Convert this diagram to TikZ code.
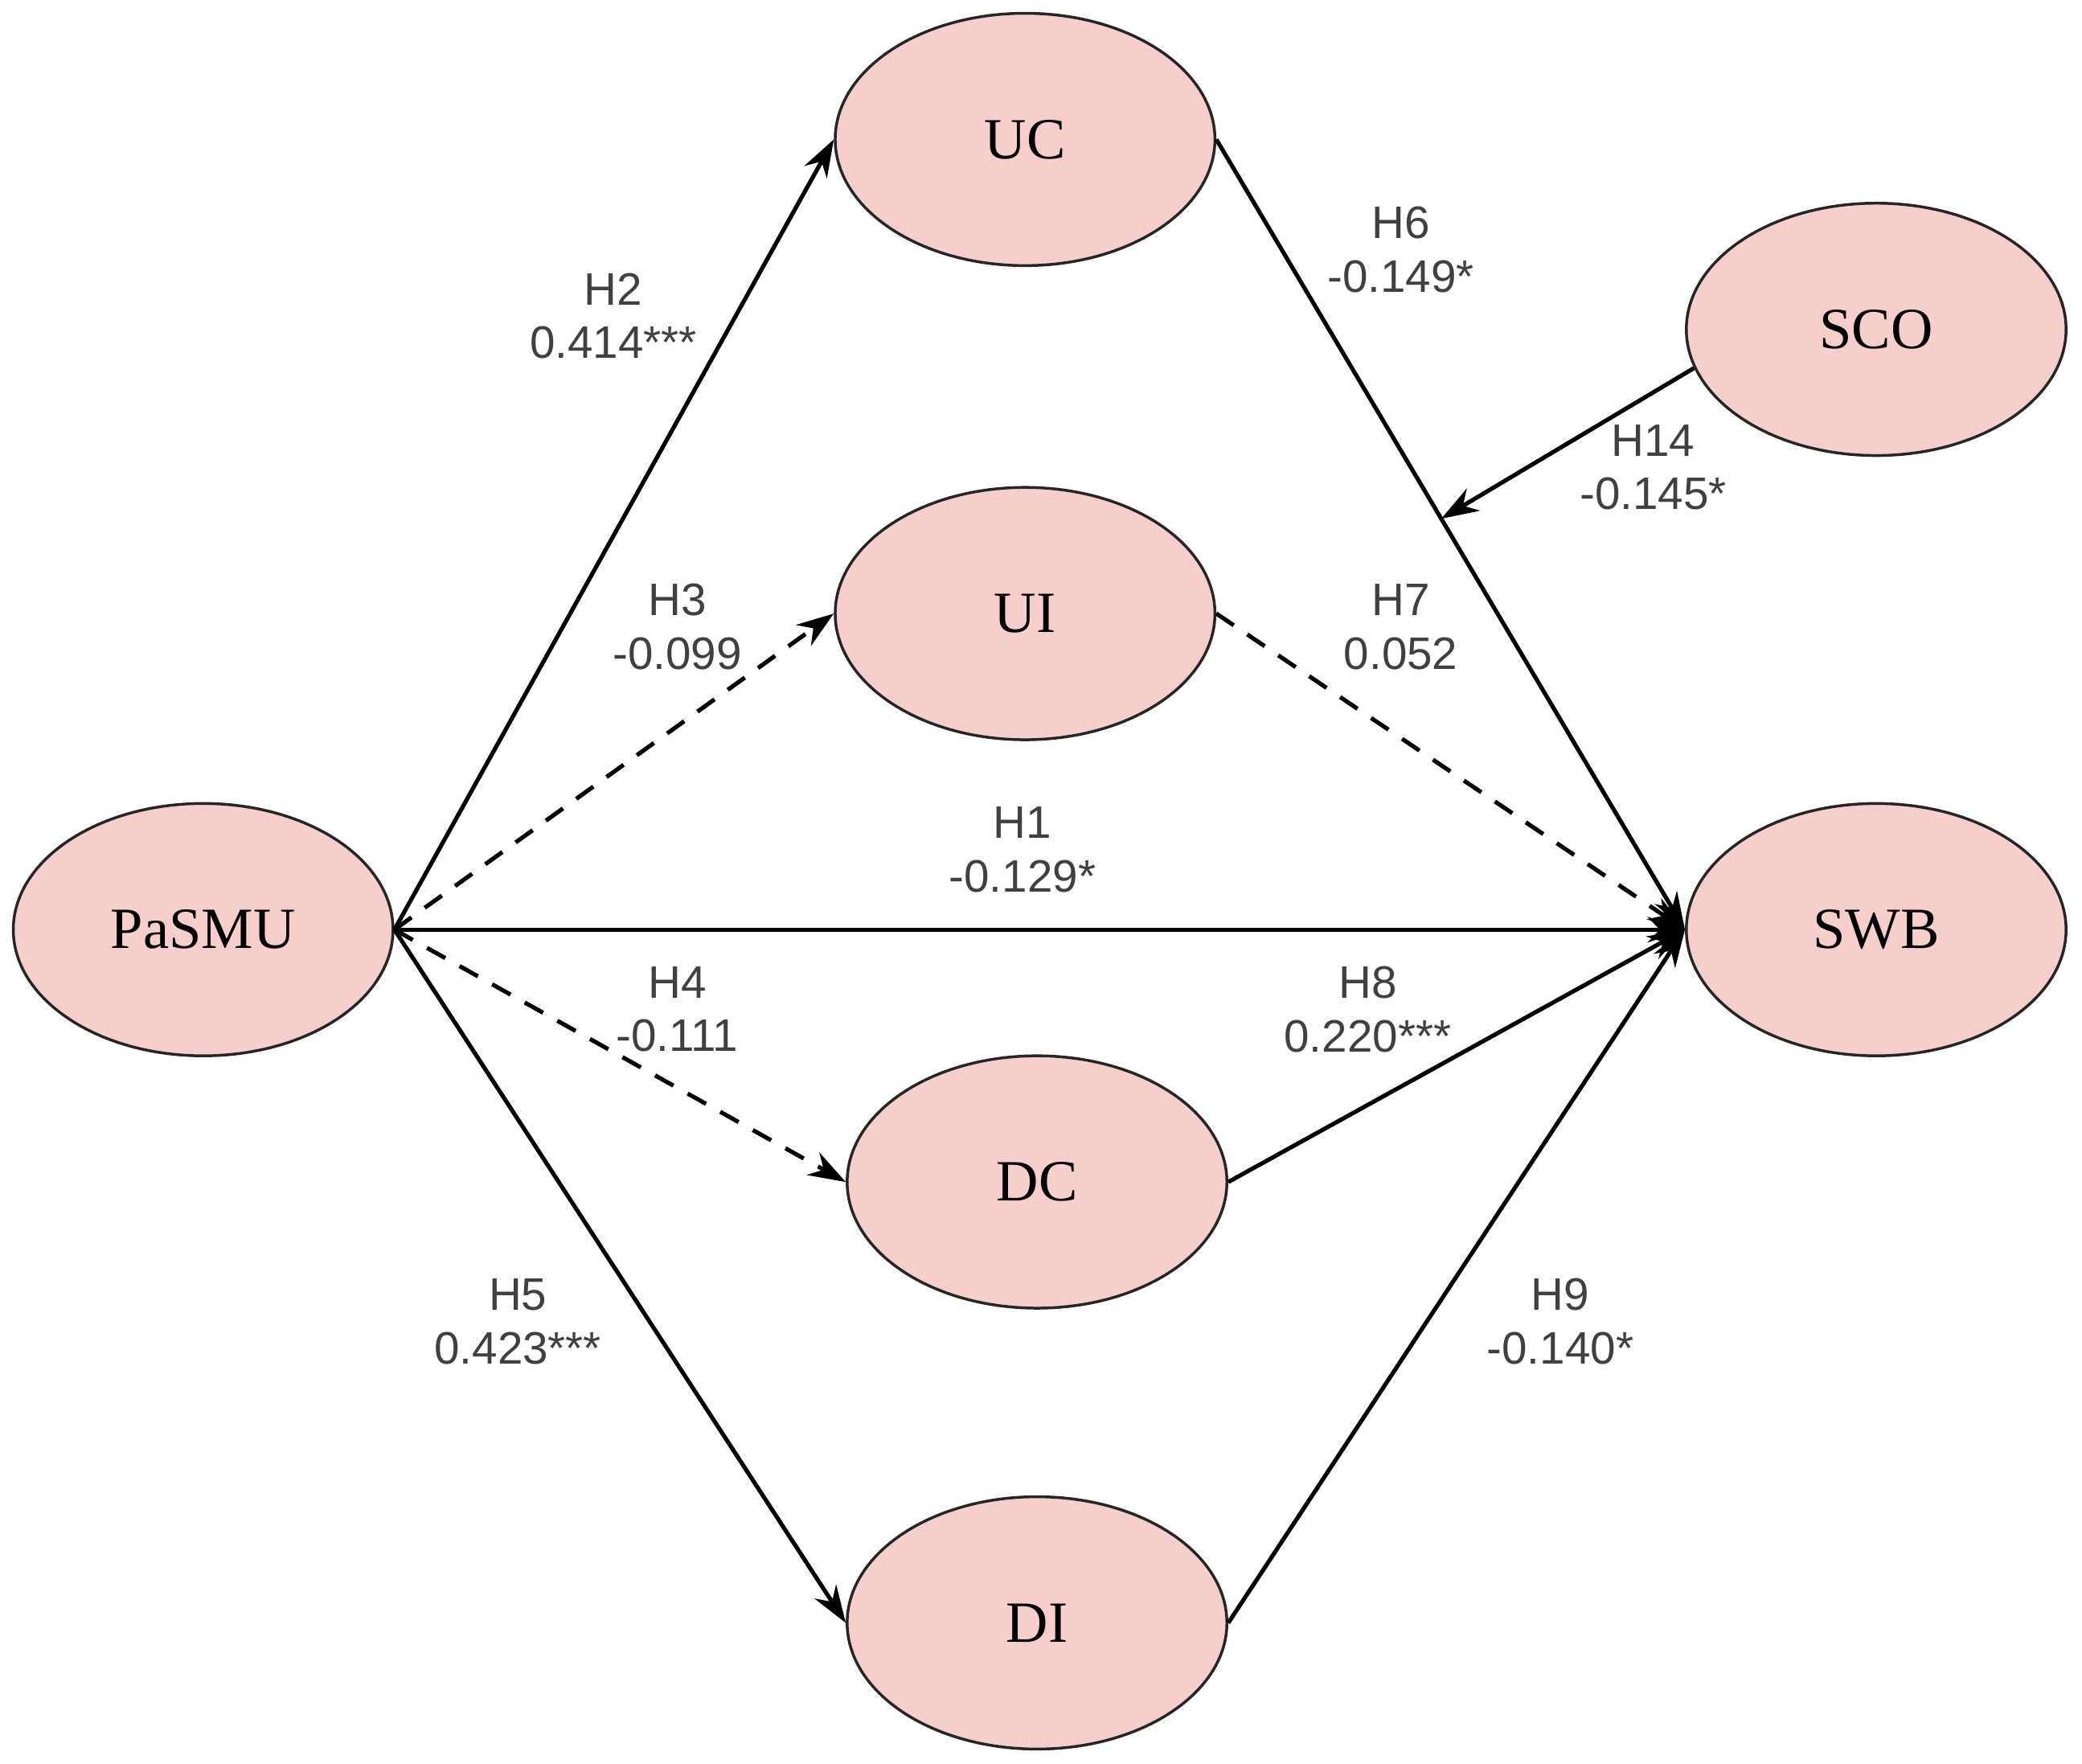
\documentclass[tikz,border=0pt]{standalone}
\usetikzlibrary{shapes.geometric,arrows.meta,calc}
\usepackage{fontspec}
\setmainfont{Liberation Serif}
\newfontfamily\lab{Liberation Sans}
\definecolor{pk}{RGB}{246,206,204}
\begin{document}
\begin{tikzpicture}[x=0.02cm,y=-0.02cm,
  lv/.style={ellipse,draw=black!85,line width=1.2pt,fill=pk,minimum width=286*0.02cm,minimum height=190*0.02cm,inner sep=0pt,font=\fontsize{25}{29}\selectfont},
  ar/.style={line width=1.8pt,-{Stealth[length=16pt,width=11pt]}},
  ds/.style={ar,dash pattern=on 9pt off 7pt},
  lb/.style={font=\lab\fontsize{19.5}{23}\selectfont,text=black!75,align=center}]
\useasboundingbox (0,0) rectangle (1568,1328);
\node[lv] (uc) at (772,105) {UC};
\node[lv] (ui) at (772,462) {UI};
\node[lv] (pa) at (153,700) {PaSMU};
\node[lv] (swb) at (1413,700) {SWB};
\node[lv] (sco) at (1413,248) {SCO};
\node[lv] (dc) at (781,890) {DC};
\node[lv] (di) at (781,1222) {DI};
\draw[ar] (pa.east) -- (uc.west);
\draw[ds] (pa.east) -- (ui.west);
\draw[ar] (pa.east) -- (swb.west);
\draw[ds] (pa.east) -- (dc.west);
\draw[ar] (pa.east) -- (di.west);
\draw[ar] (uc.east) -- (swb.west);
\draw[ds] (ui.east) -- (swb.west);
\draw[ar] (dc.east) -- (swb.west);
\draw[ar] (di.east) -- (swb.west);
\coordinate (m) at ($(uc.east)!0.48!(swb.west)$);
\draw[ar] (sco.192) -- (m);
\node[lb] (l2) at (462,238) {H2\\0.414***};
\node[lb] (l3) at (510,472) {H3\\-0.099};
\node[lb] (l1) at (770,640) {H1\\-0.129*};
\node[lb] (l4) at (510,760) {H4\\-0.111};
\node[lb] (l5) at (390,995) {H5\\0.423***};
\node[lb] (l6) at (1055,188) {H6\\-0.149*};
\node[lb] (l14) at (1245,352) {H14\\-0.145*};
\node[lb] (l7) at (1055,472) {H7\\0.052};
\node[lb] (l8) at (1030,760) {H8\\0.220***};
\node[lb] (l9) at (1175,995) {H9\\-0.140*};
\end{tikzpicture}
\end{document}
